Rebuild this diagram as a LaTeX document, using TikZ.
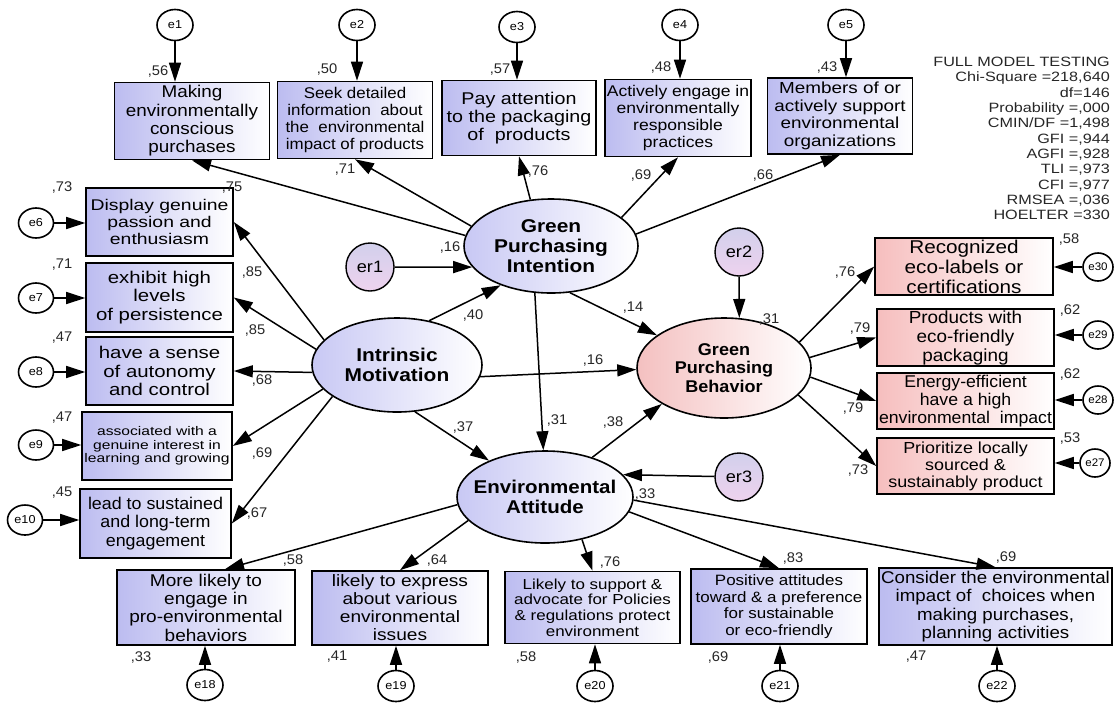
\documentclass[tikz,border=0pt]{standalone}
\usepackage{fontspec}
\setmainfont{Liberation Sans}
\usetikzlibrary{shapes.geometric,arrows.meta,calc}
\newcommand{\myfs}[3]{\fontsize{#1}{#2}\selectfont\addfontfeature{FakeStretch=#3}}
\newcommand{\myfsb}[3]{\fontsize{#1}{#2}\bfseries\addfontfeature{FakeStretch=#3}}
\definecolor{lav}{RGB}{188,188,240}
\definecolor{pnk}{RGB}{246,190,190}
\definecolor{elav}{RGB}{200,200,244}
\definecolor{epnk}{RGB}{244,192,192}
\definecolor{erA}{RGB}{210,208,236}
\definecolor{erB}{RGB}{238,210,238}
\tikzset{
  obs/.style={draw, line width=1.6pt, left color=lav, right color=white, align=center, inner sep=1pt, text=black},
  obsp/.style={obs, left color=pnk, right color=white},
  lat/.style={ellipse, draw, line width=1.6pt, left color=elav, right color=white, align=center, inner sep=0pt, text=black},
  latp/.style={lat, left color=epnk, right color=white},
  err/.style={ellipse, draw, line width=1.6pt, fill=white, inner sep=0pt, minimum width=36, minimum height=31, font=\myfs{11.5}{12}{1.1}},
  errs/.style={err, minimum width=30, minimum height=28, font=\myfs{11}{12}{1.05}},
  res/.style={circle, draw, line width=1.4pt, top color=erA, bottom color=erB, minimum size=48, inner sep=0pt, font=\myfs{16.5}{17}{1.1}},
  arr/.style={-{Triangle[length=19pt,width=12pt]}, line width=1.5pt},
  lbl/.style={font=\myfs{14}{15}{1.05}, inner sep=0pt, text=black!85},
  fit/.style={font=\myfs{13.5}{15.3}{1.2}, align=right, inner sep=0pt, text=black!85, anchor=north east}
}
\begin{document}
\begin{tikzpicture}[x=1pt,y=-1pt]
\useasboundingbox (0,0) rectangle (1115,702);

% ---- latent variables
\node[lat, minimum width=170, minimum height=94, font=\myfsb{18.5}{20}{1.13}] (IM) at (397,365) {Intrinsic\\Motivation};
\node[lat, minimum width=174, minimum height=94, font=\myfsb{18.5}{20.3}{1.13}] (GPI) at (551,246) {Green\\Purchasing\\Intention};
\node[latp, minimum width=174, minimum height=100, font=\myfsb{17}{18.3}{1.06}] (GPB) at (724,368) {Green\\Purchasing\\Behavior};
\node[lat, minimum width=176, minimum height=92, font=\myfsb{18.5}{20}{1.11}] (EA) at (545,497) {\makebox[0pt]{Environmental}\\\makebox[0pt]{Attitude}};

\node[res] (er1) at (370,267) {er1};
\node[res] (er2) at (739,252) {er2};
\node[res] (er3) at (739,477) {er3};

% ---- top indicators
\node[obs, minimum width=155, minimum height=77, font=\myfs{17}{18.3}{1.11}] (b1) at (192,121) {Making\\environmentally\\conscious\\purchases};
\node[obs, minimum width=155, minimum height=77, font=\myfs{15.5}{16.7}{1.09}] (b2) at (355,120) {Seek detailed\\information\ \ about\\the\ \ environmental\\impact of products};
\node[obs, minimum width=154, minimum height=75, font=\myfs{17}{18.3}{1.16}] (b3) at (519,118) {Pay attention\\to the packaging\\of\ \ products};
\node[obs, minimum width=146, minimum height=77, font=\myfs{15.5}{16.9}{1.13}] (b4) at (678,118) {Actively engage in\\environmentally\\responsible\\practices};
\node[obs, minimum width=145, minimum height=76, font=\myfs{16}{17.5}{1.18}] (b5) at (840,116) {Members of or\\actively support\\environmental\\organizations};

% ---- left indicators
\node[obs, minimum width=147, minimum height=68, font=\myfs{15.5}{16.7}{1.25}] (b6) at (159.5,222) {Display genuine\\passion and\\enthusiasm};
\node[obs, minimum width=147, minimum height=69, font=\myfs{17}{18.3}{1.2}] (b7) at (159.5,297.5) {exhibit high\\levels\\of persistence};
\node[obs, minimum width=147, minimum height=68, font=\myfs{17}{18.3}{1.2}] (b8) at (159.5,371) {have a sense\\of autonomy\\and control};
\node[obs, minimum width=150, minimum height=68, font=\myfs{12.5}{13.3}{1.25}] (b9) at (157,446) {associated with a\\genuine interest in\\learning and growing};
\node[obs, minimum width=151, minimum height=69, font=\myfs{17}{18.3}{1.05}] (b10) at (155.5,523.5) {lead to sustained\\and long-term\\engagement};

% ---- right indicators
\node[obsp, minimum width=178, minimum height=57, font=\myfs{18.5}{20}{1.12}] (b30) at (964,266.5) {Recognized\\eco-labels or\\certifications};
\node[obsp, minimum width=177, minimum height=57, font=\myfs{17.5}{19}{1.08}] (b29) at (965.5,337.5) {Products with\\eco-friendly\\packaging};
\node[obsp, minimum width=177, minimum height=56, font=\myfs{17}{18.3}{1.04}] (b28) at (965.5,401) {Energy-efficient\\have a high\\environmental\ \ impact};
\node[obsp, minimum width=177, minimum height=56, font=\myfs{16}{17}{1.12}] (b27) at (965.5,466) {Prioritize locally\\sourced \&\\sustainably product};

% ---- bottom indicators
\node[obs, minimum width=178, minimum height=75, font=\myfs{17}{18.3}{1.12}] (b18) at (206,607.5) {More likely to\\engage in\\pro-environmental\\behaviors};
\node[obs, minimum width=176, minimum height=74, font=\myfs{16.5}{18}{1.16}] (b19) at (400,608) {likely to express\\about various\\environmental\\issues};
\node[obs, minimum width=175, minimum height=72, font=\myfs{14.5}{15.7}{1.17}] (b20) at (592.5,607.5) {Likely to support \&\\advocate for Policies\\\& regulations protect\\environment};
\node[obs, minimum width=176, minimum height=75, font=\myfs{15}{16.7}{1.13}] (b21) at (779,606.5) {Positive attitudes\\toward \& a preference\\for sustainable\\or eco-friendly};
\node[obs, minimum width=233, minimum height=77, font=\myfs{17}{18.3}{1.1}] (b22) at (995.5,606.5) {Consider the environmental\\impact of\ \ choices when\\making purchases,\\planning activities};

% ---- error terms
\node[err] (e1) at (175,25) {e1};
\node[err] (e2) at (357,25) {e2};
\node[err] (e3) at (517,27) {e3};
\node[err] (e4) at (680,25) {e4};
\node[err] (e5) at (846,25) {e5};
\node[err, minimum width=35, minimum height=30] (e6) at (36,223) {e6};
\node[err, minimum width=35, minimum height=30] (e7) at (36,298) {e7};
\node[err, minimum width=35, minimum height=30] (e8) at (36,372) {e8};
\node[err, minimum width=35, minimum height=30] (e9) at (36,445) {e9};
\node[err, minimum width=35, minimum height=30] (e10) at (25,520) {e10};
\node[errs] (e30) at (1098,267) {e30};
\node[errs] (e29) at (1098,335) {e29};
\node[errs] (e28) at (1098,400) {e28};
\node[errs] (e27) at (1095,463) {e27};
\node[err] (e18) at (205,685) {e18};
\node[err] (e19) at (396,686) {e19};
\node[err] (e20) at (595,686) {e20};
\node[err] (e21) at (780,686) {e21};
\node[err] (e22) at (997,686) {e22};

% ---- error arrows
\foreach \e/\b in {e1/b1,e2/b2,e3/b3,e4/b4,e5/b5}
  \draw[arr] (\e) -- (\e |- \b.north);
\foreach \e/\b in {e6/b6,e7/b7,e8/b8,e9/b9,e10/b10}
  \draw[arr] (\e) -- (\e -| \b.west);
\foreach \e/\b in {e30/b30,e29/b29,e28/b28,e27/b27}
  \draw[arr] (\e) -- (\e -| \b.east);
\foreach \e/\b in {e18/b18,e19/b19,e20/b20,e21/b21,e22/b22}
  \draw[arr] (\e) -- (\e |- \b.south);

% ---- loadings
\draw[arr] (GPI.173) -- (b1.south);
\draw[arr] (GPI.166) -- (b2.south);
\draw[arr] (GPI.114) -- (b3.south);
\draw[arr] (GPI.22) -- (b4.south);
\draw[arr] (GPI.8) -- (b5.south);

\draw[arr] (IM.161) -- (b6.east);
\draw[arr] (IM.169) -- (b7.east);
\draw[arr] (IM.185) -- (b8.east);
\draw[arr] (IM.198) -- (b9.east);
\draw[arr] (IM.206) -- (b10.east);

\draw[arr] (GPB.19) -- (b30.west);
\draw[arr] (GPB.7) -- (b29.west);
\draw[arr] (GPB.354) -- (b28.west);
\draw[arr] (GPB.340) -- (b27.west);

\draw[arr] (EA.185) -- ([xshift=19pt]b18.north);
\draw[arr] (EA.197) -- (b19.north);
\draw[arr] (EA.311) -- (b20.north);
\draw[arr] (EA.350) -- (b21.north);
\draw[arr] (EA.358) -- (b22.north);

% ---- structural paths
\draw[arr] (er1) -- (GPI.195);
\draw[arr] (er2) -- (GPB.73);
\draw[arr] (er3) -- (EA.16);
\draw[arr] (IM.54) -- (GPI.218);
\draw[arr] (IM.352) -- (GPB.181);
\draw[arr] (IM.291) -- (EA.147);
\draw[arr] (GPI.292) -- (GPB.154);
\draw[arr] (GPI.251) -- (EA.92);
\draw[arr] (EA.40) -- (GPB.210);

% ---- labels
\node[lbl] (l1) at (158,72) {,56};
\node[lbl] (l2) at (327,70) {,50};
\node[lbl] (l3) at (500,70) {,57};
\node[lbl] (l4) at (661,68) {,48};
\node[lbl] (l5) at (827,68) {,43};
\node[lbl] (l6) at (345,170) {,71};
\node[lbl] (l7) at (538,172) {,76};
\node[lbl] (l8) at (641,176) {,69};
\node[lbl] (l9) at (763,176) {,66};
\node[lbl] (l10) at (232,188) {,75};
\node[lbl] (l11) at (62,188) {,73};
\node[lbl] (l12) at (62,265) {,71};
\node[lbl] (l13) at (62,338) {,47};
\node[lbl] (l14) at (62,418) {,47};
\node[lbl] (l15) at (62,493) {,45};
\node[lbl] (l16) at (252,272) {,85};
\node[lbl] (l17) at (255,330) {,85};
\node[lbl] (l18) at (262,380) {,68};
\node[lbl] (l19) at (262,453) {,69};
\node[lbl] (l20) at (257,513) {,67};
\node[lbl] (l21) at (450,248) {,16};
\node[lbl] (l22) at (473,315) {,40};
\node[lbl] (l23) at (633,308) {,14};
\node[lbl] (l24) at (593,360) {,16};
\node[lbl] (l25) at (463,427) {,37};
\node[lbl] (l26) at (557,420) {,31};
\node[lbl] (l27) at (613,422) {,38};
\node[lbl] (l28) at (645,494) {,33};
\node[lbl] (l29) at (769,319) {,31};
\node[lbl] (l30) at (845,273) {,76};
\node[lbl] (l31) at (860,328) {,79};
\node[lbl] (l32) at (853,408) {,79};
\node[lbl] (l33) at (858,470) {,73};
\node[lbl] (l34) at (1069,240) {,58};
\node[lbl] (l35) at (1070,310) {,62};
\node[lbl] (l36) at (1070,374) {,62};
\node[lbl] (l37) at (1070,438) {,53};
\node[lbl] (l38) at (293,560) {,58};
\node[lbl] (l39) at (437,560) {,64};
\node[lbl] (l40) at (610,562) {,76};
\node[lbl] (l41) at (793,558) {,83};
\node[lbl] (l42) at (1006,557) {,69};
\node[lbl] (l43) at (141,657) {,33};
\node[lbl] (l44) at (337,657) {,41};
\node[lbl] (l45) at (526,657) {,58};
\node[lbl] (l46) at (718,657) {,69};
\node[lbl] (l47) at (916,657) {,47};

% ---- fit statistics
\node[fit] (stats) at (1110,57) {FULL MODEL TESTING\\Chi-Square =218,640\\df=146\\Probability =,000\\CMIN/DF =1,498\\GFI =,944\\AGFI =,928\\TLI =,973\\CFI =,977\\RMSEA =,036\\HOELTER =330};
\end{tikzpicture}
\end{document}
